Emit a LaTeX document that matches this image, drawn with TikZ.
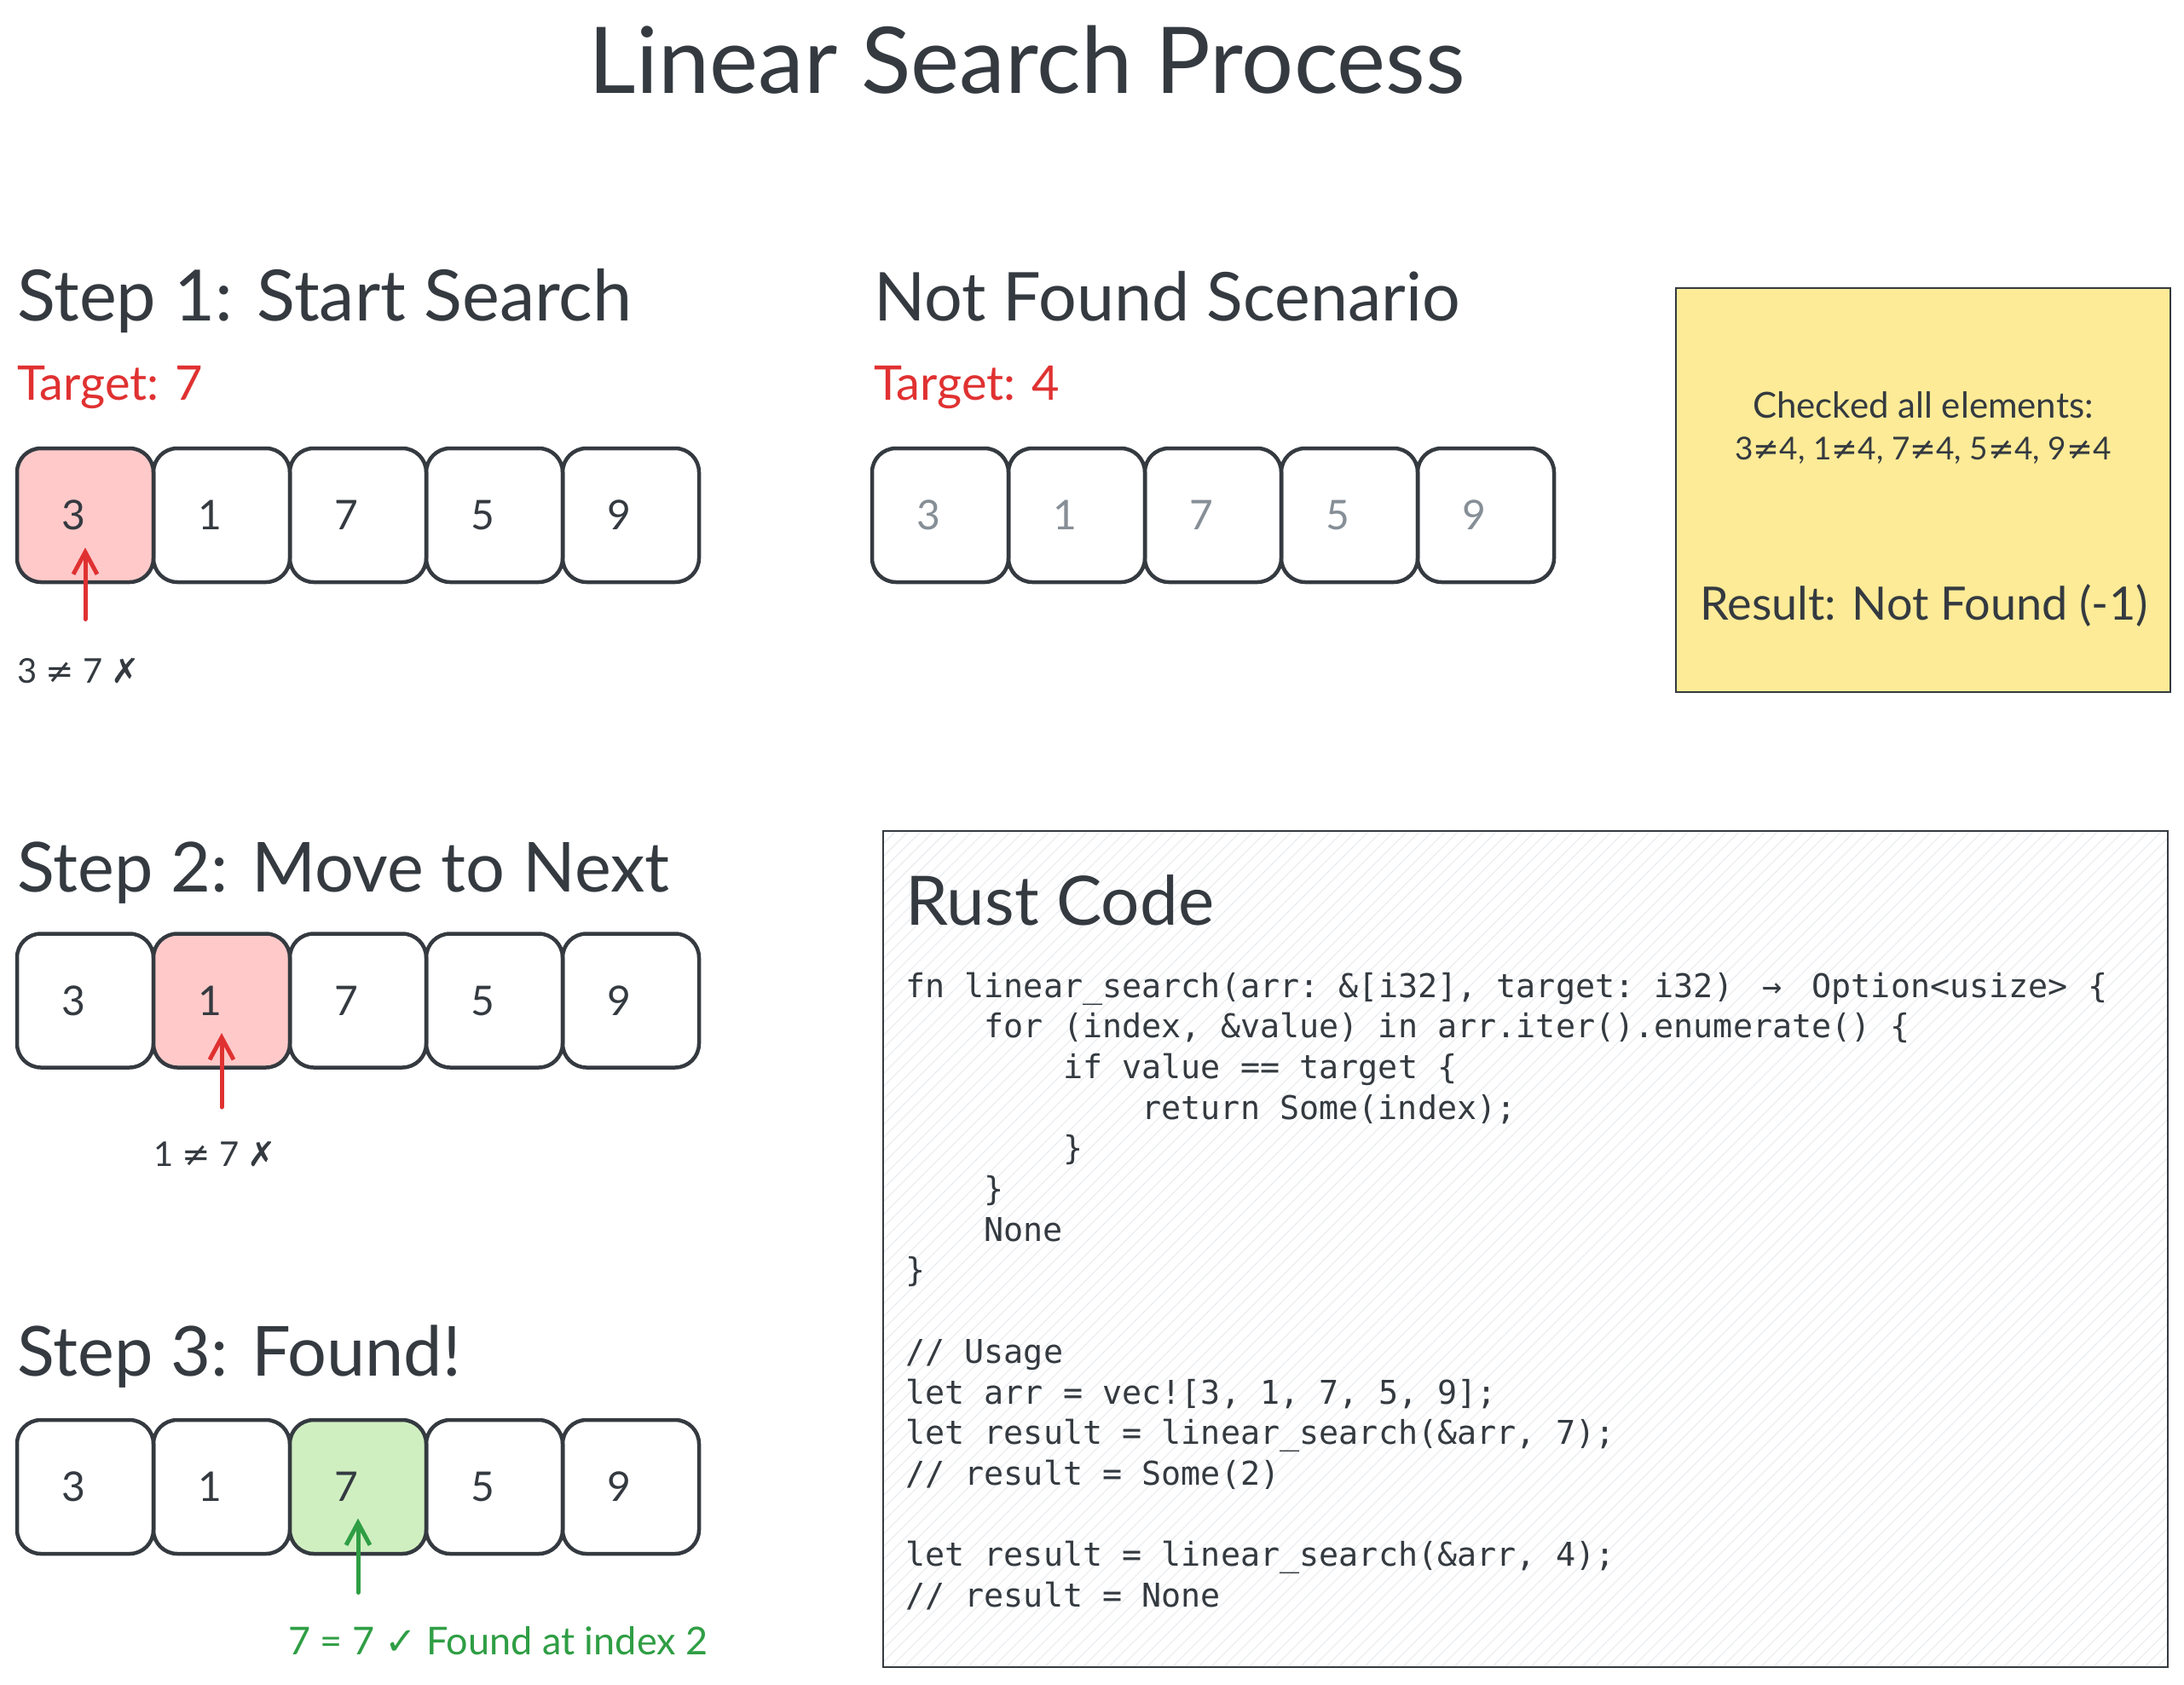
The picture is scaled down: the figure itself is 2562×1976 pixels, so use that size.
\documentclass[tikz,border=0pt]{standalone}
\usepackage{fontspec}
\setmainfont{Lato}
\newfontfamily\symfont{DejaVu Sans}
\setmonofont{DejaVu Sans Mono}
\usetikzlibrary{arrows.meta}
\definecolor{ink}{HTML}{343A40}
\definecolor{redink}{HTML}{E03131}
\definecolor{greenink}{HTML}{2F9E44}
\definecolor{pinkfill}{HTML}{FFC9C9}
\definecolor{greenfill}{HTML}{D0EFC1}
\definecolor{yellowfill}{HTML}{FDEB97}
\definecolor{grayink}{HTML}{868E96}
\definecolor{hatchgray}{HTML}{E9ECEF}
\newcommand\dg[1]{\hspace*{-28pt}#1}
\tikzset{
  cell/.style={draw=ink, line width=4.5pt, rounded corners=28pt, minimum width=160pt,
    minimum height=157pt, inner sep=0pt, text=ink, font=\fontsize{48}{48}\selectfont},
  heading/.style={anchor=base west, inner sep=0pt, text=ink, font=\fontsize{81}{90}\selectfont},
  targetlbl/.style={anchor=base west, inner sep=0pt, text=redink, font=\fontsize{56}{60}\selectfont},
  cmp/.style={anchor=mid west, inner sep=0pt, font=\fontsize{40}{44}\selectfont},
  pointer/.style={line width=5pt, line cap=round, -{Straight Barb[length=26pt,width=28pt]}},
  codeline/.style={anchor=base west, inner sep=0pt, text=ink, font=\ttfamily\fontsize{38.4}{40}\selectfont},
  notetext/.style={anchor=base, inner sep=0pt, text=ink},
  hatch/.style={draw=hatchgray, line width=1.1pt}
}
\begin{document}
\begin{tikzpicture}[x=1pt,y=-1pt]
\useasboundingbox[fill=white] (0,0) rectangle (2562,1976);

% title
\node[anchor=base, inner sep=0pt, text=ink, font=\fontsize{108}{120}\selectfont] (title) at (1205,109) {Linear Search Process};

% Step 1
\node[heading, font=\fontsize{83}{90}\selectfont] (h1) at (20,376) {Step 1: Start Search};
\node[targetlbl] (tg1) at (20,469) {Target: 7};
\node[cell, fill=pinkfill] (a0) at (100,604.5) {\dg{3}};
\node[cell] (a1) at (260,604.5) {\dg{1}};
\node[cell] (a2) at (420,604.5) {\dg{7}};
\node[cell] (a3) at (580,604.5) {\dg{5}};
\node[cell] (a4) at (740,604.5) {\dg{9}};
\coordinate (ta) at ([yshift=-122pt]a0.center);
\draw[pointer, draw=redink] (ta) -- ([yshift=-38pt]a0.center);
\node[cmp, text=ink] (c1) at (20,799) {3 {\symfont ≠} 7 {\symfont ✗}};

% Step 2
\node[heading] (h2) at (20,1046) {Step 2: Move to Next};
\node[cell] (b0) at (100,1174) {\dg{3}};
\node[cell, fill=pinkfill] (b1) at (260,1174) {\dg{1}};
\node[cell] (b2) at (420,1174) {\dg{7}};
\node[cell] (b3) at (580,1174) {\dg{5}};
\node[cell] (b4) at (740,1174) {\dg{9}};
\coordinate (tb) at ([yshift=-125pt]b1.center);
\draw[pointer, draw=redink] (tb) -- ([yshift=-38pt]b1.center);
\node[cmp, text=ink] (c2) at (180,1366) {1 {\symfont ≠} 7 {\symfont ✗}};

% Step 3
\node[heading] (h3) at (20,1614) {Step 3: Found!};
\node[cell] (d0) at (100,1744.5) {\dg{3}};
\node[cell] (d1) at (260,1744.5) {\dg{1}};
\node[cell, fill=greenfill] (d2) at (420,1744.5) {\dg{7}};
\node[cell] (d3) at (580,1744.5) {\dg{5}};
\node[cell] (d4) at (740,1744.5) {\dg{9}};
\coordinate (td) at ([yshift=-124pt]d2.center);
\draw[pointer, draw=greenink] (td) -- ([yshift=-37pt]d2.center);
\node[cmp, text=greenink, font=\fontsize{45}{48}\selectfont] (c3) at (338,1939) {7 = 7 {\symfont ✓} Found at index 2};

% Not found scenario
\node[heading, font=\fontsize{79}{90}\selectfont] (h4) at (1025,376) {Not Found Scenario};
\node[targetlbl] (tg4) at (1025,469) {Target: 4};
\node[cell, text=grayink] (e0) at (1103,604.5) {\dg{3}};
\node[cell, text=grayink] (e1) at (1263,604.5) {\dg{1}};
\node[cell, text=grayink] (e2) at (1423,604.5) {\dg{7}};
\node[cell, text=grayink] (e3) at (1583,604.5) {\dg{5}};
\node[cell, text=grayink] (e4) at (1743,604.5) {\dg{9}};

% note
\draw[draw=ink, fill=yellowfill, line width=2.5pt] (1966,338) rectangle (2546,812);
\node[notetext, font=\fontsize{42}{46}\selectfont] (n1) at (2256,490) {Checked all elements:};
\node[notetext, font=\fontsize{37}{42}\selectfont] (n2) at (2256,539) {3{\symfont ≠}4, 1{\symfont ≠}4, 7{\symfont ≠}4, 5{\symfont ≠}4, 9{\symfont ≠}4};
\node[notetext, font=\fontsize{54}{58}\selectfont] (n3) at (2257,727) {Result: Not Found (-1)};

% code box
\fill[white] (1036,975) rectangle (2543,1956);
\begin{scope}
\clip (1036,975) rectangle (2543,1956);
\foreach \k in {0,15,...,2500} \draw[hatch] ({55+\k},1956) -- ++(981,-981);
\end{scope}
\draw[draw=ink, line width=2.5pt] (1036,975) rectangle (2543,1956);
\node[heading, font=\fontsize{80}{90}\selectfont] (rc) at (1062,1085) {Rust Code};
\node[codeline] (k1) at (1062,1170) {fn linear\_search(arr: \&[i32], target: i32) \makebox[1.204em]{→} Option<usize> \{};
\node[codeline] (k2) at (1154.4,1217.7) {for (index, \&value) in arr.iter().enumerate() \{};
\node[codeline] (k3) at (1246.8,1265.4) {if value == target \{};
\node[codeline] (k4) at (1339.2,1313.1) {return Some(index);};
\node[codeline] (k5) at (1246.8,1360.8) {\}};
\node[codeline] (k6) at (1154.4,1408.5) {\}};
\node[codeline] (k7) at (1154.4,1456.2) {None};
\node[codeline] (k8) at (1062,1503.9) {\}};
\node[codeline] (k9) at (1062,1599.3) {// Usage};
\node[codeline] (k10) at (1062,1647) {let arr = vec![3, 1, 7, 5, 9];};
\node[codeline] (k11) at (1062,1694.7) {let result = linear\_search(\&arr, 7);};
\node[codeline] (k12) at (1062,1742.4) {// result = Some(2)};
\node[codeline] (k13) at (1062,1837.8) {let result = linear\_search(\&arr, 4);};
\node[codeline] (k14) at (1062,1885.5) {// result = None};
\end{tikzpicture}
\end{document}
